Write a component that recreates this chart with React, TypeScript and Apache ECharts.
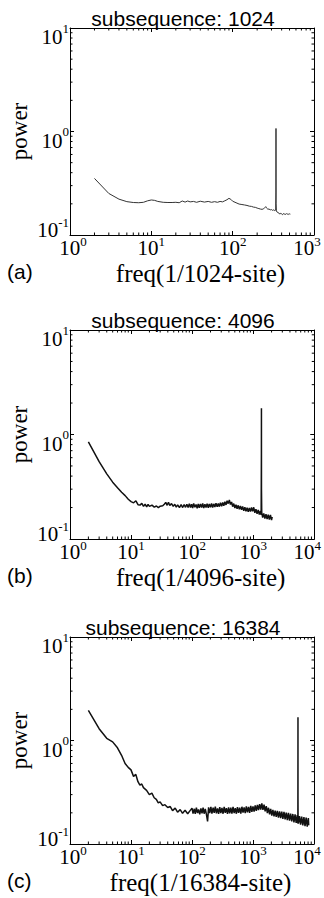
import React, { useEffect, useRef } from 'react';
import * as echarts from 'echarts';

const titles = ['subsequence: 1024', 'subsequence: 4096', 'subsequence: 16384'];
const panelTags = ['(a)', '(b)', '(c)'];
const xNames = ['freq(1/1024-site)', 'freq(1/4096-site)', 'freq(1/16384-site)'];
const xMaxs = [1000, 10000, 10000];
const Y_MIN = 0.1;
const Y_MAX = 10;

const xMinorA = [2, 3, 4, 5, 6, 7, 8, 9, 20, 30, 40, 50, 60, 70, 80, 90, 200, 300, 400, 500, 600, 700, 800, 900];
const xMinorBC = [2, 3, 4, 5, 6, 7, 8, 9, 20, 30, 40, 50, 60, 70, 80, 90, 200, 300, 400, 500, 600, 700, 800, 900, 2000, 3000, 4000, 5000, 6000, 7000, 8000, 9000];
const yMinor = [0.2, 0.3, 0.4, 0.5, 0.6, 0.7, 0.8, 0.9, 2, 3, 4, 5, 6, 7, 8, 9];

// panel (a): N = 1024
const freqA = [2, 3, 4, 5, 6, 7, 8, 9, 10, 11, 12, 14, 16, 18, 20, 22, 24, 26, 28, 30, 33, 36, 40, 45, 50, 55, 60, 65, 70, 75, 80, 85, 90, 95, 100, 110, 120, 130, 140, 150, 160, 170, 180, 190, 200, 210, 220, 230, 240, 250, 255, 260, 270, 280, 290, 300, 310, 320, 330, 338, 340, 341, 342, 345, 350, 360, 370, 380, 390, 400, 410, 420, 430, 440, 450, 460, 470, 480, 490, 500, 512];
const powA = [0.352, 0.252, 0.222, 0.21, 0.206, 0.205, 0.207, 0.214, 0.218, 0.216, 0.211, 0.207, 0.206, 0.206, 0.207, 0.205, 0.213, 0.208, 0.213, 0.209, 0.211, 0.207, 0.212, 0.208, 0.211, 0.207, 0.21, 0.207, 0.211, 0.209, 0.214, 0.219, 0.226, 0.221, 0.212, 0.205, 0.199, 0.197, 0.195, 0.193, 0.19, 0.189, 0.186, 0.185, 0.182, 0.18, 0.178, 0.177, 0.179, 0.185, 0.188, 0.183, 0.178, 0.178, 0.175, 0.176, 0.173, 0.175, 0.172, 0.174, 0.26, 1.07, 0.2, 0.171, 0.167, 0.165, 0.163, 0.159, 0.162, 0.16, 0.157, 0.161, 0.159, 0.16, 0.158, 0.161, 0.159, 0.16, 0.158, 0.16, 0.159];

// panel (b): N = 4096
const freqB = [2, 3, 4, 5, 6, 7, 8, 9, 10, 11, 12, 13, 14, 15, 16, 17, 18, 19, 20, 22, 24, 26, 28, 30, 33, 35, 37, 39, 41, 43, 46, 49, 52, 55, 58, 62, 66, 70, 74, 78, 82, 86,
  90, 94, 98, 102, 106, 111, 116, 121, 126, 131, 137, 143, 149, 155, 162, 169, 176, 184, 191, 200, 208, 217, 226, 236, 246, 257, 268, 279, 291, 304, 317, 330, 344, 359, 374, 390, 407, 424, 443, 461, 481, 502, 523, 545, 569, 593, 618, 645, 672, 701, 731, 762, 795, 829, 864, 901, 939, 979, 1021, 1065, 1110, 1158, 1207, 1259, 1312, 1350, 1363, 1365, 1367, 1380, 1430, 1490, 1555, 1621, 1690, 1762, 1838, 1916, 1998, 2048];
const powB = [0.85, 0.55, 0.42, 0.35, 0.31, 0.28, 0.26, 0.24, 0.228, 0.222, 0.232, 0.213, 0.211, 0.219, 0.205, 0.216, 0.203, 0.214, 0.205, 0.211, 0.202, 0.207, 0.2, 0.206, 0.208, 0.215, 0.224, 0.21, 0.225, 0.209, 0.218, 0.205, 0.215, 0.202, 0.212, 0.2, 0.213, 0.2, 0.214, 0.201, 0.215, 0.2,
  0.218, 0.2, 0.215, 0.198, 0.219, 0.201, 0.214, 0.197, 0.217, 0.199, 0.216, 0.2, 0.219, 0.198, 0.215, 0.2, 0.218, 0.199, 0.216, 0.201, 0.219, 0.2, 0.217, 0.202, 0.22, 0.203, 0.219, 0.204, 0.222, 0.206, 0.224, 0.208, 0.227, 0.212, 0.232, 0.218, 0.236, 0.214, 0.226, 0.204, 0.218, 0.198, 0.213, 0.195, 0.21, 0.192, 0.207, 0.19, 0.205, 0.186, 0.201, 0.184, 0.199, 0.182, 0.198, 0.183, 0.2, 0.184, 0.201, 0.178, 0.193, 0.174, 0.19, 0.171, 0.186, 0.17, 0.68, 1.78, 0.3, 0.18, 0.16, 0.176, 0.157, 0.173, 0.155, 0.171, 0.153, 0.17, 0.152, 0.163];

// panel (c): N = 16384
const freqC = [2, 3, 4, 5, 6, 7, 8, 9, 10, 11, 12, 13, 14, 15, 16, 18, 20, 22, 24, 26, 28, 30, 33, 36, 40, 44, 48, 53, 58, 64, 70, 77, 85, 93,
  100, 104, 109, 113, 118, 123, 128, 134, 140, 146, 152, 158, 165, 172, 180, 187, 195, 204, 212, 222, 231, 241, 251, 262, 273, 285, 297, 310, 323, 337, 351, 366, 382, 398, 415, 433, 451, 471, 491, 512, 534, 556, 580, 605, 631, 658, 686, 715, 746, 777, 811, 845, 881, 919, 958, 999, 1042, 1086, 1133, 1181, 1231, 1284, 1339, 1396, 1455, 1517, 1582, 1650, 1720, 1794, 1870, 1950, 2033, 2120, 2211, 2305, 2403, 2506, 2613, 2725, 2841, 2962, 3089, 3220, 3358, 3501, 3651, 3807, 3969, 4139, 4315, 4500, 4692, 4892, 5101, 5319, 5440, 5459, 5461, 5463, 5480, 5546, 5783, 6030, 6287, 6556, 6836, 7127, 7432, 7749, 8080, 8192];
const powC = [1.95, 1.3, 1.05, 0.97, 0.85, 0.72, 0.6, 0.55, 0.52, 0.45, 0.47, 0.4, 0.37, 0.38, 0.35, 0.33, 0.3, 0.31, 0.28, 0.27, 0.25, 0.255, 0.235, 0.24, 0.225, 0.23, 0.21, 0.222, 0.203, 0.215, 0.198, 0.212, 0.196, 0.21,
  0.222, 0.197, 0.219, 0.195, 0.224, 0.199, 0.216, 0.193, 0.221, 0.198, 0.225, 0.196, 0.218, 0.194, 0.165, 0.226, 0.199, 0.228, 0.197, 0.224, 0.2, 0.23, 0.198, 0.221, 0.195, 0.227, 0.199, 0.223, 0.196, 0.229, 0.2, 0.222, 0.195, 0.226, 0.198, 0.224, 0.197, 0.228, 0.199, 0.222, 0.196, 0.227, 0.2, 0.225, 0.197, 0.229, 0.201, 0.226, 0.199, 0.231, 0.202, 0.228, 0.2, 0.233, 0.204, 0.231, 0.206, 0.236, 0.209, 0.239, 0.212, 0.243, 0.215, 0.247, 0.214, 0.24, 0.207, 0.232, 0.199, 0.224, 0.193, 0.218, 0.188, 0.214, 0.185, 0.21, 0.183, 0.209, 0.18, 0.207, 0.178, 0.206, 0.175, 0.204, 0.173, 0.201, 0.17, 0.2, 0.168, 0.197, 0.165, 0.195, 0.162, 0.193, 0.16, 0.19, 0.158, 0.75, 1.68, 0.28, 0.188, 0.157, 0.186, 0.154, 0.184, 0.151, 0.182, 0.149, 0.18, 0.147, 0.178, 0.152];

const freqs = [freqA, freqB, freqC];
const pows = [powA, powB, powC];
const xMinors = [xMinorA, xMinorBC, xMinorBC];

const SERIF = '"Liberation Serif", "Times New Roman", Times, serif';
const SANS = '"Liberation Sans", Arial, Helvetica, sans-serif';

const grids = [
  { left: 51, top: 28, width: 263, height: 207 },
  { left: 51, top: 330, width: 264, height: 209 },
  { left: 51, top: 637, width: 263, height: 207 },
];

function expOf(v: number) {
  return Math.round(Math.log10(v));
}

export default function App() {
  const ref = useRef<HTMLDivElement>(null);
  useEffect(() => {
    if (!ref.current) return;
    const chart = echarts.init(ref.current, undefined, { renderer: 'svg' });

    const xAxes: any[] = [];
    const yAxes: any[] = [];
    const series: any[] = [];
    const titleArr: any[] = [];

    grids.forEach((g, i) => {
      const xMax = xMaxs[i];
      titleArr.push({
        text: titles[i],
        left: 183,
        top: g.top - 20,
        textAlign: 'center',
        padding: 0,
        textStyle: { fontFamily: SANS, fontSize: 21, fontWeight: 'normal', color: '#000' },
      });
      titleArr.push({
        text: panelTags[i],
        left: 7,
        top: g.top + g.height + 26,
        padding: 0,
        textStyle: { fontFamily: SANS, fontSize: 21, fontWeight: 'normal', color: '#000' },
      });
      xAxes.push({
        type: 'log',
        logBase: 10,
        gridIndex: i,
        min: 1,
        max: xMax,
        position: 'bottom',
        name: xNames[i],
        nameLocation: 'middle',
        nameGap: 26,
        nameMoveOverlap: false,
        nameTextStyle: { fontFamily: SERIF, fontSize: 25, color: '#000', padding: [0, 0, 0, 17], verticalAlign: 'top' },
        axisLine: { show: true, lineStyle: { color: '#000', width: 1 } },
        axisTick: { show: true, inside: true, length: 4, lineStyle: { color: '#000' } },
        splitLine: { show: false },
        axisLabel: {
          margin: 0,
          formatter: (v: number) => {
            const e = expOf(v);
            if (v <= 1.0001) return `{bf|10}{s|${e}}`;
            if (v >= xMax * 0.999) return `{b|10}{sl|${e}}`;
            return `{b|10}{s|${e}}`;
          },
          rich: {
            b: { fontFamily: SERIF, fontSize: 21, color: '#000', padding: [2, 0, 0, 0] },
            bf: { fontFamily: SERIF, fontSize: 21, color: '#000', padding: [2, 0, 0, 6] },
            s: { fontFamily: SERIF, fontSize: 13, color: '#000', verticalAlign: 'top' },
            sl: { fontFamily: SERIF, fontSize: 13, color: '#000', verticalAlign: 'top', padding: [0, 14, 0, 0] },
          },
        },
      });
      xAxes.push({
        type: 'log',
        logBase: 10,
        gridIndex: i,
        min: 1,
        max: xMax,
        position: 'top',
        axisLine: { show: true, lineStyle: { color: '#000', width: 1 } },
        axisTick: { show: true, inside: true, length: 4, lineStyle: { color: '#000' } },
        splitLine: { show: false },
        axisLabel: { show: false },
      });
      yAxes.push({
        type: 'log',
        logBase: 10,
        gridIndex: i,
        min: Y_MIN,
        max: Y_MAX,
        position: 'left',
        name: 'power',
        nameLocation: 'middle',
        nameGap: 39,
        nameMoveOverlap: false,
        nameTextStyle: { fontFamily: SERIF, fontSize: 23, color: '#000' },
        axisLine: { show: true, lineStyle: { color: '#000', width: 1 } },
        axisTick: { show: true, inside: true, length: 4, lineStyle: { color: '#000' } },
        splitLine: { show: false },
        axisLabel: {
          margin: 1,
          verticalAlign: 'middle',
          formatter: (v: number) => {
            const e = expOf(v);
            if (e === -1) return `{b2|10}{s2|${e}}`;
            return `{b|10}{s|${e}}`;
          },
          rich: {
            b: { fontFamily: SERIF, fontSize: 21, color: '#000', padding: [18, 0, 0, 0] },
            s: { fontFamily: SERIF, fontSize: 13, color: '#000', verticalAlign: 'top', padding: [13, 0, 0, 0] },
            b2: { fontFamily: SERIF, fontSize: 21, color: '#000', padding: [4, 0, 14, 0] },
            s2: { fontFamily: SERIF, fontSize: 13, color: '#000', verticalAlign: 'top', padding: [0, 0, 0, 0] },
          },
        },
      });
      yAxes.push({
        type: 'log',
        logBase: 10,
        gridIndex: i,
        min: Y_MIN,
        max: Y_MAX,
        position: 'right',
        axisLine: { show: true, lineStyle: { color: '#000', width: 1 } },
        axisTick: { show: true, inside: true, length: 4, lineStyle: { color: '#000' } },
        splitLine: { show: false },
        axisLabel: { show: false },
      });

      series.push({
        type: 'line',
        xAxisIndex: 2 * i,
        yAxisIndex: 2 * i,
        data: freqs[i].map((f, k) => [f, pows[i][k]]),
        showSymbol: false,
        symbol: 'none',
        lineStyle: { color: i === 0 ? '#333' : '#111', width: i === 0 ? 1 : 1.5 },
        silent: true,
        z: 3,
      });
      // minor log ticks on x (top and bottom)
      series.push({
        type: 'custom',
        xAxisIndex: 2 * i,
        yAxisIndex: 2 * i,
        silent: true,
        data: xMinors[i].map((v) => [v, 1]),
        renderItem: (params: any, api: any) => {
          const cs = params.coordSys;
          const px = api.coord([api.value(0), 1])[0];
          const yb = cs.y + cs.height;
          const yt = cs.y;
          return {
            type: 'group',
            children: [
              { type: 'line', shape: { x1: px, y1: yb, x2: px, y2: yb - 2.5 }, style: { stroke: '#000', lineWidth: 1 } },
              { type: 'line', shape: { x1: px, y1: yt, x2: px, y2: yt + 2.5 }, style: { stroke: '#000', lineWidth: 1 } },
            ],
          };
        },
        z: 4,
      });
      // minor log ticks on y (left and right)
      series.push({
        type: 'custom',
        xAxisIndex: 2 * i,
        yAxisIndex: 2 * i,
        silent: true,
        data: yMinor.map((v) => [10, v]),
        renderItem: (params: any, api: any) => {
          const cs = params.coordSys;
          const py = api.coord([10, api.value(1)])[1];
          const xl = cs.x;
          const xr = cs.x + cs.width;
          return {
            type: 'group',
            children: [
              { type: 'line', shape: { x1: xl, y1: py, x2: xl + 2.5, y2: py }, style: { stroke: '#000', lineWidth: 1 } },
              { type: 'line', shape: { x1: xr, y1: py, x2: xr - 2.5, y2: py }, style: { stroke: '#000', lineWidth: 1 } },
            ],
          };
        },
        z: 4,
      });
    });

    chart.setOption({
      animation: false,
      backgroundColor: '#fff',
      title: titleArr,
      grid: grids.map((g) => ({ ...g, containLabel: false })),
      xAxis: xAxes,
      yAxis: yAxes,
      series,
    });
    return () => chart.dispose();
  }, []);

  return (
    <div
      ref={ref}
      style={{ position: 'absolute', left: 0, top: 0, width: 324, height: 898, background: '#fff' }}
    />
  );
}
